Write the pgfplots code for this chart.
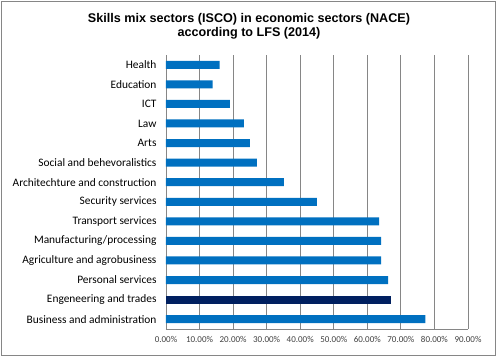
\documentclass[border=0pt]{standalone}
\usepackage{pgfplots}
\pgfplotsset{compat=1.18}
\usepackage{fontspec}
\setmainfont{Carlito}
\newfontfamily\titlefont{Liberation Sans}
\definecolor{barblue}{HTML}{0070C0}
\definecolor{navy}{HTML}{002060}
\definecolor{gridgray}{HTML}{868686}
\begin{document}
\begin{tikzpicture}[x=1pt,y=1pt]
\useasboundingbox (0,0) rectangle (499,359);
\draw[gridgray, line width=0.9pt] (1,4) rectangle (495.5,358);
\node[align=center, font=\titlefont\bfseries\fontsize{12.6}{14}\selectfont] at (249,333) {Skills mix sectors (ISCO) in economic sectors (NACE)\\according to LFS (2014)};
\begin{axis}[
  at={(166pt,30pt)}, anchor=south west,
  scale only axis, width=302pt, height=274pt,
  xmin=0, xmax=90, ymin=-0.5, ymax=13.5,
  axis x line*=bottom, axis y line*=left,
  axis line style={gridgray, line width=0.8pt},
  xtick={0,10,...,90},
  xticklabels={0.00\%,10.00\%,20.00\%,30.00\%,40.00\%,50.00\%,60.00\%,70.00\%,80.00\%,90.00\%},
  xticklabel style={font=\fontsize{9}{10}\selectfont, text=black!75, yshift=-4pt},
  xmajorgrids, grid style={gridgray, line width=0.8pt},
  major tick length=0pt,
  ytick={0,...,13},
  yticklabels={Business and administration,Engeneering and trades,Personal services,Agriculture and agrobusiness,Manufacturing/processing,Transport services,Security services,Architechture and construction,Social and behevoralistics,Arts,Law,ICT,Education,Health},
  yticklabel style={font=\fontsize{11.4}{13}\selectfont, xshift=-6pt},
  xbar, bar width=8pt,
  /pgf/number format/assume math mode=true,
]
\addplot[fill=barblue, draw=none, bar shift=0pt] coordinates {
(77.3,0) (66.2,2) (64.1,3) (64.1,4) (63.5,5) (45.0,6) (35.1,7) (27.1,8) (25.0,9) (23.2,10) (19.0,11) (13.9,12) (16.0,13)};
\addplot[fill=navy, draw=none, bar shift=0pt] coordinates {(67.1,1)};
\end{axis}
\end{tikzpicture}
\end{document}
